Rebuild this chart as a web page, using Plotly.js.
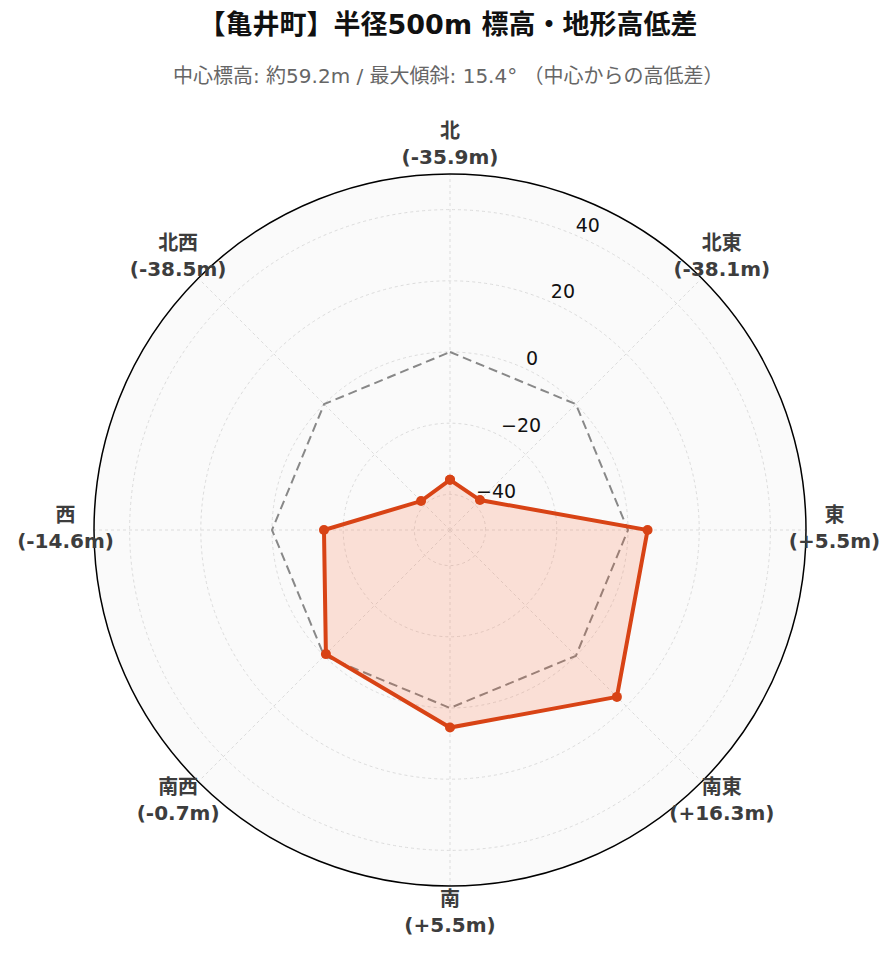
<!DOCTYPE html>
<html>
<head>
<meta charset="utf-8">
<script src="https://cdn.plot.ly/plotly-3.0.1.min.js"></script>
<style>body{margin:0;background:#fff;}</style>
</head>
<body>
<div id="chart" style="width:896px;height:962px;"></div>
<script>
const directions = ["北", "北東", "東", "南東", "南", "南西", "西", "北西"];
const diffs = [-35.9, -38.1, 5.5, 16.3, 5.5, -0.7, -14.6, -38.5];
const baseline = [0, 0, 0, 0, 0, 0, 0, 0];
const radialTicks = [-40, -20, 0, 20, 40];
const radialTickText = ["−40", "−20", "0", "20", "40"];
const titleText = "【亀井町】半径500m 標高・地形高低差";
const subtitleText = "中心標高: 約59.2m / 最大傾斜: 15.4° （中心からの高低差）";

const fmt = v => (v >= 0 ? "+" : "") + v.toFixed(1) + "m";
const labels = directions.map((d, i) => "<b>" + d + "<br>(" + fmt(diffs[i]) + ")</b>");
const closeArr = a => a.concat([a[0]]);
const RANGE = [-50, 50];
const LABEL_R = 58;   // radial position of direction labels (data units)

// geometry (pixels)
const W = 896, H = 962, CX = 450, CY = 530, R1 = 356, R2 = 430;
const dom = (R) => ({
  x: [(CX - R) / W, (CX + R) / W],
  y: [(H - CY - R) / H, (H - CY + R) / H]
});
const RANGE2 = [RANGE[0], RANGE[0] + (RANGE[1] - RANGE[0]) * R2 / R1];
// tick labels sit slightly outside their grid circle (pixels -> data units)
const TICK_LABEL_PAD = 12 * (RANGE[1] - RANGE[0]) / R1;

const FONT = "DejaVu Sans, Noto Sans CJK JP, sans-serif";

const traces = [
  {
    type: "scatterpolar",
    subplot: "polar",
    r: closeArr(baseline),
    theta: closeArr(directions),
    mode: "lines",
    line: {color: "#888888", width: 2, dash: "9px,5px"},
    hoverinfo: "skip",
    showlegend: false
  },
  {
    type: "scatterpolar",
    subplot: "polar",
    r: closeArr(diffs),
    theta: closeArr(directions),
    mode: "lines+markers",
    fill: "toself",
    fillcolor: "rgba(255,87,34,0.16)",
    line: {color: "#d84315", width: 4},
    marker: {color: "#d84315", size: 10},
    showlegend: false
  },
  {
    type: "scatterpolar",
    subplot: "polar2",
    r: directions.map(() => LABEL_R),
    theta: directions,
    mode: "text",
    text: labels,
    textposition: "middle center",
    textfont: {family: FONT, size: 20, color: "#3d3d3d"},
    cliponaxis: false,
    hoverinfo: "skip",
    showlegend: false
  }
];

const layout = {
  width: W,
  height: H,
  paper_bgcolor: "#ffffff",
  font: {family: FONT},
  margin: {l: 0, r: 0, t: 0, b: 0},
  title: {
    text: "<b>" + titleText + "</b>",
    font: {family: FONT, size: 27, color: "#111"},
    x: 0.5, xanchor: "center",
    y: 1 - 25 / H, yanchor: "middle"
  },
  annotations: [{
    text: subtitleText,
    xref: "paper", yref: "paper",
    x: 0.5, y: 1 - 76 / H,
    xanchor: "center", yanchor: "middle",
    showarrow: false,
    font: {family: FONT, size: 20, color: "#666"}
  }],
  polar: {
    domain: dom(R1),
    bgcolor: "#fafafa",
    angularaxis: {
      direction: "clockwise",
      rotation: 90,
      showticklabels: false,
      showline: true,
      linecolor: "#000",
      linewidth: 1.5,
      gridcolor: "#dcdcdc",
      griddash: "dot",
      gridwidth: 1.2,
      ticks: "",
      categoryorder: "array",
      categoryarray: directions
    },
    radialaxis: {
      range: RANGE,
      tickvals: radialTicks,
      showticklabels: false,
      angle: 69.5,
      showline: false,
      ticks: "",
      gridcolor: "#dcdcdc",
      griddash: "dot",
      gridwidth: 1.2
    }
  },
  polar2: {
    domain: dom(R2),
    bgcolor: "rgba(0,0,0,0)",
    angularaxis: {
      direction: "clockwise", rotation: 90,
      showticklabels: false, showline: false, showgrid: false, ticks: "",
      categoryorder: "array", categoryarray: directions
    },
    radialaxis: {
      range: RANGE2,
      tickvals: radialTicks.map(v => v + TICK_LABEL_PAD),
      ticktext: radialTickText,
      angle: 69.5,
      tickangle: 69.5,
      showgrid: false,
      showline: false,
      ticks: "",
      tickfont: {family: FONT, size: 19, color: "#111"}
    }
  }
};

Plotly.newPlot("chart", traces, layout, {displayModeBar: false});
</script>
</body>
</html>
